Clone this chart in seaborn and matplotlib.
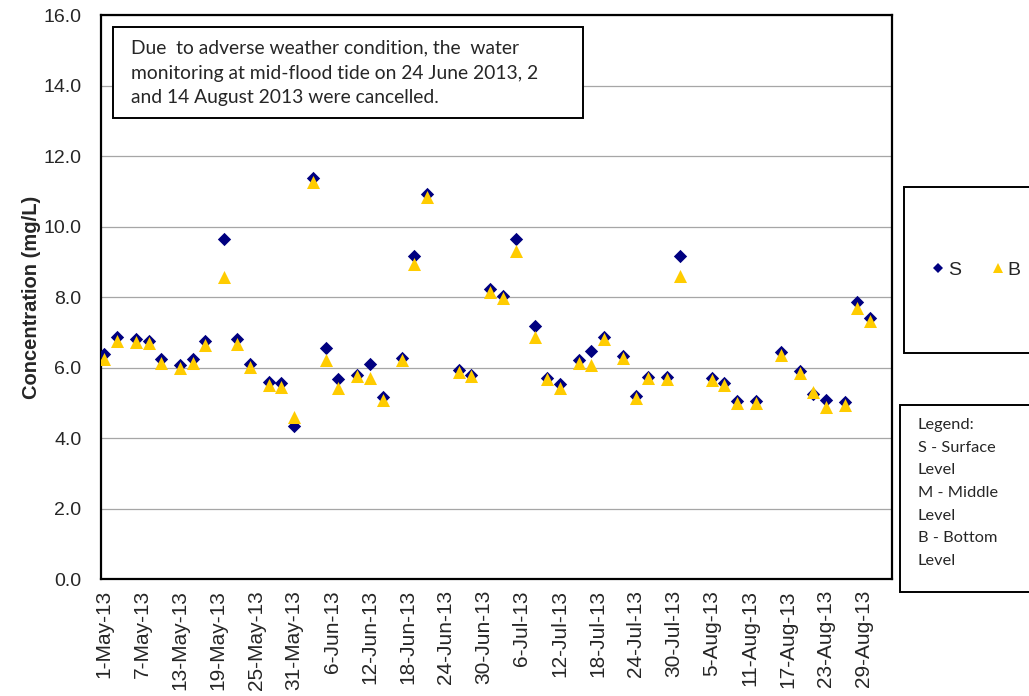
import numpy as np
import pandas as pd
import matplotlib
matplotlib.use("Agg")
import matplotlib.pyplot as plt
import matplotlib.dates as mdates
from matplotlib.patches import Rectangle
from matplotlib.lines import Line2D
import seaborn as sns

# ── Data ──────────────────────────────────────────────────────────────────────
dates = [
    "2013-05-01", "2013-05-03", "2013-05-06", "2013-05-08", "2013-05-10", "2013-05-13",
    "2013-05-15", "2013-05-17", "2013-05-20", "2013-05-22", "2013-05-24", "2013-05-27",
    "2013-05-29", "2013-05-31", "2013-06-03", "2013-06-05", "2013-06-07", "2013-06-10",
    "2013-06-12", "2013-06-14", "2013-06-17", "2013-06-19", "2013-06-21", "2013-06-26",
    "2013-06-28", "2013-07-01", "2013-07-03", "2013-07-05", "2013-07-08", "2013-07-10",
    "2013-07-12", "2013-07-15", "2013-07-17", "2013-07-19", "2013-07-22", "2013-07-24",
    "2013-07-26", "2013-07-29", "2013-07-31", "2013-08-05", "2013-08-07", "2013-08-09",
    "2013-08-12", "2013-08-16", "2013-08-19", "2013-08-21", "2013-08-23", "2013-08-26",
    "2013-08-28", "2013-08-30",
]
surface = [
    6.37, 6.87, 6.80, 6.75, 6.23, 6.08, 6.23, 6.75, 9.66, 6.80, 6.11, 5.58, 5.55, 4.33,
    11.37, 6.54, 5.68, 5.80, 6.10, 5.17, 6.27, 9.16, 10.93, 5.92, 5.80,
    8.22, 8.03, 9.66, 7.19, 5.71, 5.52, 6.21, 6.46, 6.86, 6.32, 5.19, 5.73, 5.73, 9.16,
    5.71, 5.55, 5.04, 5.04, 6.44, 5.90, 5.26, 5.07, 5.01, 7.86, 7.41,
]
bottom = [
    6.25, 6.75, 6.71, 6.70, 6.14, 6.00, 6.14, 6.64, 8.58, 6.67, 6.02, 5.49, 5.44, 4.60,
    11.25, 6.21, 5.42, 5.75, 5.69, 5.07, 6.20, 8.93, 10.85, 5.88, 5.75,
    8.14, 7.96, 9.30, 6.87, 5.68, 5.41, 6.13, 6.08, 6.80, 6.26, 5.14, 5.69, 5.67, 8.61,
    5.64, 5.49, 4.98, 4.98, 6.35, 5.85, 5.30, 4.88, 4.95, 7.68, 7.32,
]
levels = ["S", "B"]
level_colors = {"S": "#000080", "B": "#FFCC00"}
level_markers = {"S": "D", "B": "^"}
level_sizes = {"S": 46, "B": 88}

x_start, x_end = "2013-04-30 12:00", "2013-09-02 12:00"
tick_start, tick_step, n_ticks = "2013-05-01", "6D", 21
y_ticks = np.arange(0, 16.1, 2.0)

note = ("Due  to adverse weather condition, the  water\n"
        "monitoring at mid-flood tide on 24 June 2013, 2\n"
        "and 14 August 2013 were cancelled.")
legend_note = "Legend:\nS - Surface\nLevel\nM - Middle\nLevel\nB - Bottom\nLevel"

df = pd.DataFrame({
    "date": pd.to_datetime(dates * 2),
    "value": surface + bottom,
    "level": ["S"] * len(dates) + ["B"] * len(dates),
})

# ── Plot ──────────────────────────────────────────────────────────────────────
sns.set_style("white")
plt.rcParams["font.family"] = ["Liberation Sans", "DejaVu Sans"]

fig = plt.figure(figsize=(10.29, 6.96), dpi=100)
ax = fig.add_axes([0.0982, 0.1681, 0.7687, 0.8103])

for lv in levels:
    sns.scatterplot(data=df[df["level"] == lv], x="date", y="value",
                    color=level_colors[lv], marker=level_markers[lv],
                    s=level_sizes[lv], linewidth=0, ax=ax, zorder=3)

ax.set_xlim(pd.Timestamp(x_start), pd.Timestamp(x_end))
ax.set_ylim(0, 16)
ax.set_yticks(y_ticks)
ax.set_yticklabels([f"{v:.1f}" for v in y_ticks], fontsize=14)
ax.set_xticks(pd.date_range(tick_start, periods=n_ticks, freq=tick_step))
ax.xaxis.set_major_formatter(mdates.DateFormatter("%-d-%b-%y"))
plt.setp(ax.get_xticklabels(), rotation=90, fontsize=15)
ax.tick_params(axis="y", length=0, pad=14)
ax.tick_params(axis="x", length=0, pad=8)
ax.set_xlabel("")
ax.set_ylabel("Concentration (mg/L)", fontsize=14.5, fontweight="bold", labelpad=8)
ax.yaxis.set_label_coords(-0.0755, 0.5)
ax.grid(axis="y", color="#a6a6a6", linewidth=0.9)
ax.set_axisbelow(True)
for sp in ax.spines.values():
    sp.set_color("black")
    sp.set_linewidth(1.6)

# note box inside the plot
fig.patches.append(Rectangle((0.1098, 0.8305), 0.4568, 0.1307, transform=fig.transFigure,
                             facecolor="white", edgecolor="black", linewidth=1.4, zorder=5))
fig.text(0.1273, 0.8951, note, fontsize=13.9, family=["Lato", "DejaVu Sans"],
         va="center", ha="left", linespacing=1.55, zorder=6)

# marker legend box
fig.patches.append(Rectangle((0.8785, 0.4928), 0.2, 0.2385, transform=fig.transFigure,
                             facecolor="white", edgecolor="black", linewidth=1.4))
handles = [Line2D([], [], linestyle="", marker=level_markers[lv], color=level_colors[lv],
                  markersize=5.5 if lv == "S" else 7.5, markeredgewidth=0) for lv in levels]
fig.legend(handles, levels, loc="center", bbox_to_anchor=(0.949, 0.612), ncol=2,
           frameon=False, fontsize=14, handlelength=0.6, handletextpad=0.2,
           columnspacing=1.6)

# text legend box
fig.patches.append(Rectangle((0.8746, 0.1494), 0.2, 0.2687, transform=fig.transFigure,
                             facecolor="white", edgecolor="black", linewidth=1.4))
fig.text(0.892, 0.2917, legend_note, fontsize=11.8, family=["Lato", "DejaVu Sans"],
         va="center", ha="left", linespacing=1.78)

fig.savefig("out.png", dpi=100)
plt.close(fig)
